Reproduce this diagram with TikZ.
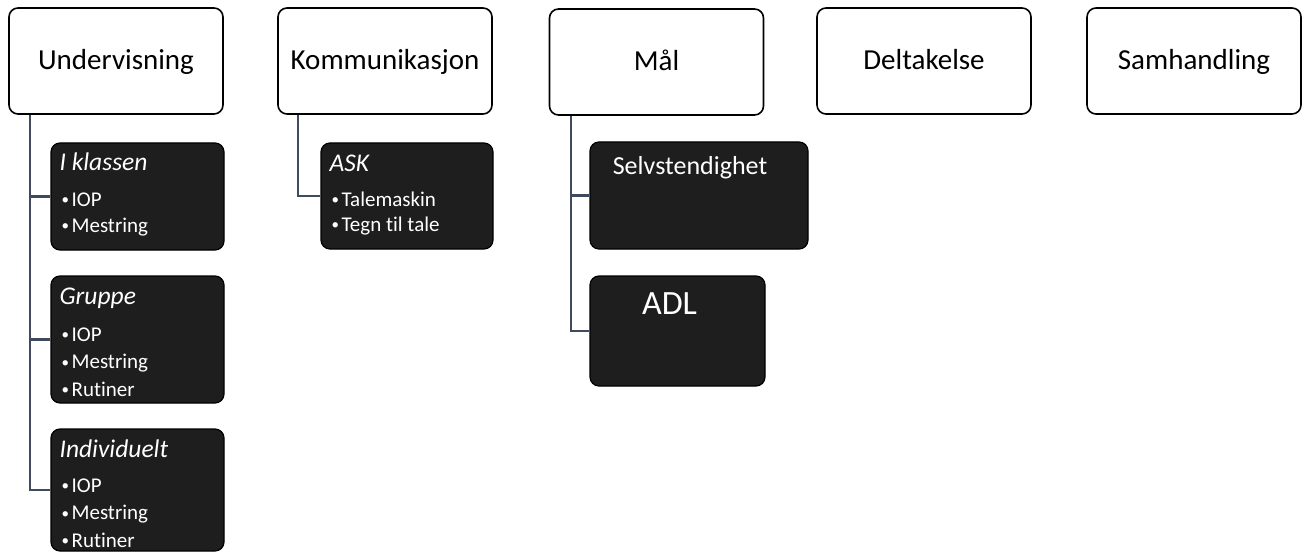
\documentclass[tikz,border=0pt]{standalone}
\usepackage{fontspec}
\setmainfont{Carlito}[Ligatures=NoCommon]
\usetikzlibrary{positioning,calc}
\definecolor{colorline}{HTML}{3F4A5C}
\definecolor{colorsub}{HTML}{1E1E1E}
\tikzset{
  topbox/.style={draw=black, line width=1.6pt, rounded corners=9pt, fill=white,
    minimum width=214pt, minimum height=106pt, inner sep=0pt,
    font=\fontsize{29}{34}\selectfont, text height=21pt, text depth=4pt},
  subbox/.style={draw=black, line width=1.2pt, rounded corners=9pt, fill=colorsub, inner sep=0pt},
  subtitle/.style={white, anchor=base west, inner sep=0pt, font=\fontsize{25.5}{30}\selectfont\itshape},
  subitem/.style={white, anchor=base west, inner sep=0pt, font=\fontsize{21}{25}\selectfont},
  conn/.style={colorline, line width=2.2pt}
}
\newcommand\bul[1]{\makebox[10pt][l]{\raisebox{1.5pt}{\fontsize{15}{15}\selectfont\textbullet}}#1}

\begin{document}
\begin{tikzpicture}[x=1pt, y=-1pt]
\useasboundingbox (0,0) rectangle (1305,553);
% top row
\node[topbox] (under) at (116,61) {Undervisning};
\node[topbox] (komm) at (385,61) {Kommunikasjon};
\node[topbox] (maal) at (656.5,62) {Mål};
\node[topbox] (delt) at (924,61) {Deltakelse};
\node[topbox] (samh) at (1194,61) {Samhandling};
% Undervisning
\node[subbox, minimum width=173pt, minimum height=107pt] (klassen) at (137.5,196.5) {};
\node[subbox, minimum width=173pt, minimum height=127pt] (gruppe) at (137.5,339.5) {};
\node[subbox, minimum width=173pt, minimum height=122pt] (indiv) at (137.5,490) {};
\node[subtitle] (klassen-t) at ([xshift=9pt,yshift=-28pt]klassen.north west) {I klassen};
\node[subtitle] (gruppe-t) at ([xshift=9pt,yshift=-29pt]gruppe.north west) {Gruppe};
\node[subtitle] (indiv-t) at ([xshift=9pt,yshift=-29pt]indiv.north west) {Individuelt};
\foreach \t [count=\i] in {IOP,Mestring}
  \node[subitem] (klassen-\i) at ([xshift=11pt,yshift={-38pt-26pt*\i}]klassen.north west) {\bul{\t}};
\foreach \t [count=\i] in {IOP,Mestring,Rutiner}
  \node[subitem] (gruppe-\i) at ([xshift=11pt,yshift={-38.5pt-27.5pt*\i}]gruppe.north west) {\bul{\t}};
\foreach \t [count=\i] in {IOP,Mestring,Rutiner}
  \node[subitem] (indiv-\i) at ([xshift=11pt,yshift={-36.5pt-27.5pt*\i}]indiv.north west) {\bul{\t}};
% Kommunikasjon
\node[subbox, minimum width=172pt, minimum height=106pt] (ask) at (407,196) {};
\node[subtitle] (ask-t) at ([xshift=9pt,yshift=-29pt]ask.north west) {ASK};
\foreach \t [count=\i] in {Talemaskin,Tegn til tale}
  \node[subitem] (ask-\i) at ([xshift=11pt,yshift={-39pt-25pt*\i}]ask.north west) {\bul{\t}};
% Mål
\node[subbox, minimum width=218pt, minimum height=107pt] (selv) at (699,195.5) {};
\node[subbox, minimum width=175pt, minimum height=110pt] (adl) at (677.5,331) {};
\node[white, anchor=base, inner sep=0pt, font=\fontsize{26}{30}\selectfont] (selv-t) at ([xshift=-9pt,yshift=-33pt]selv.north) {Selvstendighet};
\node[white, anchor=base, inner sep=0pt, font=\fontsize{34}{40}\selectfont] (adl-t) at ([xshift=-8pt,yshift=-39pt]adl.north) {ADL};
% connectors
\draw[conn] ([xshift=22pt]under.south west) |- (klassen.west);
\draw[conn] ([xshift=22pt]under.south west) |- (gruppe.west);
\draw[conn] ([xshift=22pt]under.south west) |- (indiv.west);
\draw[conn] ([xshift=21pt]komm.south west) |- (ask.west);
\draw[conn] ([xshift=22.5pt]maal.south west) |- (selv.west);
\draw[conn] ([xshift=22.5pt]maal.south west) |- (adl.west);
\end{tikzpicture}
\end{document}
